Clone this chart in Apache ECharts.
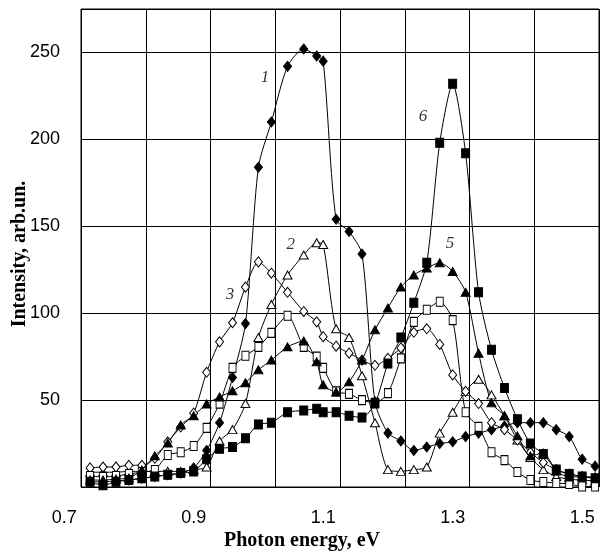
<!DOCTYPE html>
<html><head><meta charset="utf-8">
<script src="https://cdn.jsdelivr.net/npm/echarts@6/dist/echarts.min.js"></script>
<style>html,body{margin:0;padding:0;background:#fff}#c{width:600px;height:557px}</style>
</head><body><div id="c"></div>
<script>
// Photon energy (eV) of the measured points
const energy = [0.74,0.76,0.78,0.80,0.82,0.84,0.86,0.88,0.90,0.92,0.94,0.96,0.98,1.00,1.02,1.045,1.07,1.09,1.10,1.12,1.14,1.16,1.18,1.20,1.22,1.24,1.26,1.28,1.30,1.32,1.34,1.36,1.38,1.40,1.42,1.44,1.46,1.48,1.50,1.52];
// Intensity, arb.un.
const curve1 = [3,3,3.5,4,5,6,7,8,11,21,37,63,94,184,210,242,252,248,245,154,147,134,49,31,26.5,21,23,25,26,29,31,33,35,37,37,37,33,29,16,12];
const curve2 = [8.5,8.5,8.5,9,9,9,9,9,10,11.5,26.5,33,48,86,105,122,133.5,140.5,139.5,91,86,64,37,10,9,10,11.5,31,43,55,62,53,41,27,17,10,6,4.5,4,3.5];
const curve3 = [11,11.5,11.5,12.5,12.5,16.5,26,34.5,42.5,66,83.5,94.5,115,129.5,123,112,101,95,86.5,81,77,73,70,74,80,89,91,82,64.5,55,48,37,33,27,20,14,10,7.5,6,5];
const curve4 = [6.3,5.8,6.3,7.5,8.6,9.8,18.4,20,23.6,34,48,68.5,75.5,80.6,88.7,98.5,80.6,75,68.5,55,53.6,50,48.4,54,74,95,102,106.6,96,43,34.6,20,15.5,8.6,4,2.9,2.3,1.7,0.3,0.3];
const curve5 = [4,4,4.6,5.2,9.8,17.9,25.3,35.7,41,47.8,51.8,55.3,60,67.4,73,80.6,84,72,58.8,54.7,60.5,73,90.4,103,115,122,126,129,124,112,77,48.4,41,29.4,17.9,19.6,9.2,5.8,5.8,5.8];
const curve6 = [3,1,3,4,5,6,7,8,9,16,22,23,28,36,37,43,44,45,43,43,41,40,48,71,86,106,129,198,232,192,112,79,57,39,25,19,10,7.5,6,5];
const curves = [curve1, curve2, curve3, curve4, curve5, curve6];

// axis tick labels
const xTickLabels = [0.7, 0.9, 1.1, 1.3, 1.5];
const yTickLabels = [50, 100, 150, 200, 250];

// curve number annotations (data coordinates)
const annotText = ['1', '2', '3', '5', '6'];
const annotX = [1.010, 1.050, 0.956, 1.296, 1.254];
const annotY = [235.6, 139.4, 110.6, 140, 213];

const markerStyles = [
  {symbol: 'diamond', size: [8, 10], fill: '#000'},
  {symbol: 'triangle', size: [9, 8], fill: '#fff'},
  {symbol: 'diamond', size: [8, 10], fill: '#fff'},
  {symbol: 'rect', size: [7, 9], fill: '#fff'},
  {symbol: 'triangle', size: [9, 8], fill: '#000'},
  {symbol: 'rect', size: [8, 9], fill: '#000'}
];

const chart = echarts.init(document.getElementById('c'), null, {renderer: 'canvas'});

const lineSeries = curves.map((ys, i) => ({
  type: 'line',
  name: String(i + 1),
  xAxisIndex: 0,
  yAxisIndex: 0,
  data: energy.map((x, j) => [x, ys[j]]),
  smooth: 0.25,
  symbol: markerStyles[i].symbol,
  symbolSize: markerStyles[i].size,
  showAllSymbol: true,
  lineStyle: {color: '#000', width: 1},
  itemStyle: {color: markerStyles[i].fill, borderColor: '#000', borderWidth: 1},
  z: 3,
  animation: false
}));

const annotSeries = {
  type: 'scatter',
  xAxisIndex: 0,
  yAxisIndex: 0,
  data: annotX.map((x, i) => [x, annotY[i]]),
  symbolSize: 1,
  itemStyle: {color: 'rgba(0,0,0,0)'},
  label: {
    show: true, position: 'inside',
    formatter: p => annotText[p.dataIndex],
    fontFamily: 'Liberation Serif', fontStyle: 'italic', fontSize: 17, color: '#000'
  },
  z: 5,
  animation: false
};

chart.setOption({
  backgroundColor: '#fff',
  animation: false,
  grid: {left: 81, top: 9, right: 1, bottom: 70, show: true, borderColor: '#000', borderWidth: 1, backgroundColor: '#fff'},
  xAxis: [
    {type: 'value', min: 0.726, max: 1.526, show: false},
    {type: 'value', min: 0, max: 8, interval: 1, position: 'top',
     axisLine: {show: false}, axisTick: {show: false}, axisLabel: {show: false},
     splitLine: {show: true, lineStyle: {color: '#000', width: 1}}}
  ],
  yAxis: {
    type: 'value', min: 0, max: 275, interval: 50,
    axisLine: {show: false}, axisTick: {show: false},
    axisLabel: {
      show: true, margin: 21, color: '#000', fontSize: 18, fontFamily: 'Liberation Sans',
      formatter: v => (yTickLabels.indexOf(v) >= 0 ? String(v) : '')
    },
    splitLine: {show: true, lineStyle: {color: '#000', width: 1}}
  },
  series: lineSeries.concat([annotSeries])
});

const bottomY = chart.convertToPixel({yAxisIndex: 0}, 0);
const graphics = xTickLabels.map(v => ({
  type: 'text',
  x: chart.convertToPixel({xAxisIndex: 0}, v),
  y: bottomY + 31,
  style: {text: v.toFixed(1), font: '18px "Liberation Sans"', fill: '#000', align: 'center', verticalAlign: 'middle'}
}));
graphics.push({
  type: 'text', x: 302, y: 541,
  style: {text: 'Photon energy, eV', font: 'bold 20px "Liberation Serif"', fill: '#000', align: 'center', verticalAlign: 'middle'}
});
graphics.push({
  type: 'text', x: 20, y: 254, rotation: Math.PI / 2,
  style: {text: 'Intensity, arb.un.', font: 'bold 20px "Liberation Serif"', fill: '#000', align: 'center', verticalAlign: 'middle'}
});
chart.setOption({graphic: graphics});
</script>
</body></html>
